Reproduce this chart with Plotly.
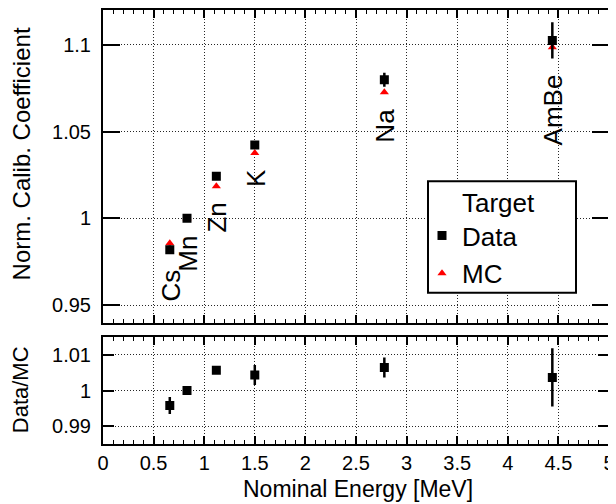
import plotly.graph_objects as go
from plotly.subplots import make_subplots

# ---- data ----
sources = ["Cs", "Mn", "Zn", "K", "Na", "AmBe"]
energy = [0.66, 0.83, 1.12, 1.50, 2.78, 4.44]
data_coef = [0.9820, 1.0000, 1.0243, 1.0422, 1.0798, 1.1025]
data_err = [0.0024, 0.0008, 0.0010, 0.0022, 0.0040, 0.0105]
mc_coef = [0.9857, 1.0000, 1.0185, 1.0376, 1.0726, 1.0985]
ratio = [0.9958, 1.0000, 1.0057, 1.0044, 1.0065, 1.0037]
ratio_err = [0.0024, 0.0003, 0.0004, 0.0028, 0.0028, 0.0082]

top_ticks = [0.95, 1.0, 1.05, 1.1]
top_ticktext = ["0.95", "1", "1.05", "1.1"]
bot_ticks = [0.99, 1.0, 1.01]
bot_ticktext = ["0.99", "1", "1.01"]
x_ticks = [0, 0.5, 1, 1.5, 2, 2.5, 3, 3.5, 4, 4.5, 5]
x_ticktext = ["0", "0.5", "1", "1.5", "2", "2.5", "3", "3.5", "4", "4.5", "5"]

FONT = "Liberation Sans, Arial, sans-serif"
OFF = 8  # default body margin of the page
W, H = 616 - OFF, 504 - OFF
# plot area in window pixels: left 103, right 609, top 8, bottom 444
ML = 103 - OFF
MR = W - (609 - OFF)
MT = 0
MB = H - (444 - OFF)
PW, PH = W - ML - MR, H - MT - MB


def px_x(p):
    """window pixel x -> paper x"""
    return (p - OFF - ML) / PW


def px_y(p):
    """window pixel y -> paper y"""
    return (H - MB - (p - OFF)) / PH


fig = make_subplots(rows=2, cols=1, shared_xaxes=True)

# MC first so data is drawn on top
fig.add_trace(go.Scatter(
    x=energy, y=mc_coef, mode="markers", name="MC",
    marker=dict(symbol="triangle-up", size=8, color="#ff0000", line=dict(width=0)),
    legendrank=2, legendgroup="mc",
), row=1, col=1)
fig.add_trace(go.Scatter(
    x=energy, y=data_coef, mode="markers", name="Data",
    marker=dict(symbol="square", size=9, color="black", line=dict(width=0)),
    error_y=dict(type="data", array=data_err, color="black", thickness=2.5, width=0),
    legendrank=1, legendgroup="data",
), row=1, col=1)
fig.add_trace(go.Scatter(
    x=energy, y=ratio, mode="markers", name="Data/MC", showlegend=False,
    marker=dict(symbol="square", size=9, color="black", line=dict(width=0)),
    error_y=dict(type="data", array=ratio_err, color="black", thickness=2.5, width=0),
), row=2, col=1)

# source labels just below each point
for s, e, d, de, m in zip(sources, energy, data_coef, data_err, mc_coef):
    ylow = min(d - de, m)
    fig.add_annotation(
        x=e, y=ylow, xref="x", yref="y", text=s, showarrow=False,
        textangle=-90, xanchor="center", yanchor="top", yshift=-14, xshift=1,
        font=dict(family=FONT, size=26, color="black"),
    )

grid = dict(showgrid=True, gridcolor="rgba(0,0,0,0.85)", gridwidth=1, griddash="1px,2px")
xcommon = dict(
    range=[0, 5], tickvals=x_ticks, ticktext=x_ticktext,
    ticks="inside", ticklen=8, tickwidth=1.5, tickcolor="black",
    showline=True, linewidth=2, linecolor="black", mirror="allticks",
    minor=dict(dtick=0.1, tick0=0, ticks="inside", ticklen=4, tickwidth=1.2,
               tickcolor="black", showgrid=False),
    zeroline=False, tickfont=dict(family=FONT, size=20, color="black"), **grid,
)
fig.update_xaxes(**xcommon)
fig.update_xaxes(showticklabels=False, row=1, col=1)
fig.update_xaxes(ticklabelstandoff=0, row=2, col=1)

fig.update_yaxes(
    range=[0.94, 1.12], tickvals=top_ticks, ticktext=top_ticktext,
    ticks="inside", ticklen=17, tickwidth=2, tickcolor="black",
    showline=True, linewidth=2, linecolor="black", mirror="allticks",
    zeroline=False, tickfont=dict(family=FONT, size=20, color="black"),
    ticklabelstandoff=6, domain=[px_y(322), 1.0], row=1, col=1, **grid,
)
fig.update_yaxes(
    range=[0.985, 1.015], tickvals=bot_ticks, ticktext=bot_ticktext,
    ticks="inside", ticklen=11, tickwidth=2, tickcolor="black",
    showline=True, linewidth=2, linecolor="black", mirror="allticks",
    zeroline=False, tickfont=dict(family=FONT, size=20, color="black"),
    ticklabelstandoff=6, domain=[0.0, px_y(336.7)], row=2, col=1, **grid,
)

# axis titles
fig.add_annotation(text="Norm. Calib. Coefficient", xref="paper", yref="paper",
                   x=px_x(21), y=px_y(25), xanchor="center", yanchor="top",
                   textangle=-90, showarrow=False, borderpad=0,
                   font=dict(family=FONT, size=24, color="black"))
fig.add_annotation(text="Data/MC", xref="paper", yref="paper",
                   x=px_x(20), y=px_y(390), xanchor="center", yanchor="middle",
                   textangle=-90, showarrow=False, borderpad=0,
                   font=dict(family=FONT, size=22, color="black"))
fig.add_annotation(text="Nominal Energy [MeV]", xref="paper", yref="paper",
                   x=px_x(358), y=px_y(489), xanchor="center", yanchor="middle",
                   showarrow=False, borderpad=0,
                   font=dict(family=FONT, size=23, color="black"))

# legend box + title
fig.add_shape(type="rect", xref="paper", yref="paper",
              x0=px_x(428), x1=px_x(576), y0=px_y(292), y1=px_y(180),
              fillcolor="white", line=dict(color="black", width=2), layer="above")
fig.add_annotation(text="Target", xref="paper", yref="paper",
                   x=px_x(460), y=px_y(202), xanchor="left", yanchor="middle",
                   showarrow=False, font=dict(family=FONT, size=26, color="black"))

fig.update_layout(
    width=W, height=H,
    margin=dict(l=ML, r=MR, t=MT, b=MB, pad=0),
    paper_bgcolor="white", plot_bgcolor="white",
    showlegend=True,
    legend=dict(x=px_x(422), y=px_y(211), xanchor="left", yanchor="top",
                bgcolor="rgba(0,0,0,0)", borderwidth=0, traceorder="grouped",
                tracegroupgap=1, itemwidth=30,
                font=dict(family=FONT, size=26, color="black")),
    font=dict(family=FONT, color="black"),
)

fig.write_html("out.html")
